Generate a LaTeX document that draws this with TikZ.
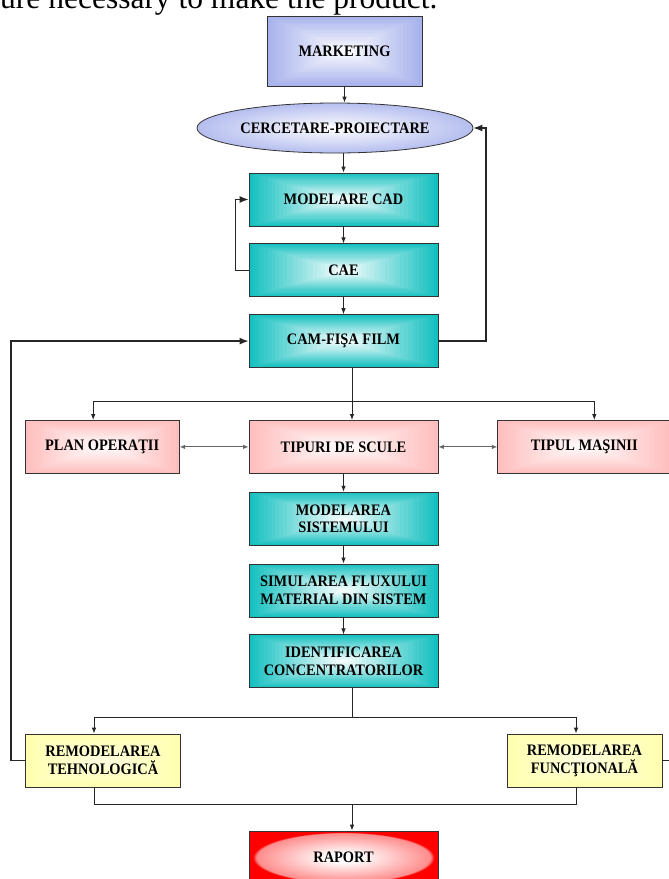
\documentclass[tikz,border=0pt]{standalone}
\usepackage{fontspec}
\setmainfont{Liberation Serif}
\newfontfamily\boxfont[FakeStretch=0.9]{Liberation Serif}
\usetikzlibrary{shapes.geometric,arrows.meta,positioning,calc}

\definecolor{mktblue}{RGB}{168,178,236}
\definecolor{cadteal}{RGB}{22,192,192}
\definecolor{toolpink}{RGB}{255,190,190}
\definecolor{remyellow}{RGB}{255,255,176}
\definecolor{remcream}{RGB}{255,255,226}
\definecolor{raportred}{RGB}{255,0,0}

\pgfdeclareradialshading{raportglow}{\pgfpoint{0bp}{0bp}}{%
  color(0bp)=(white); color(4bp)=(white); color(23bp)=(raportred!45!white);
  color(24bp)=(raportred); color(50bp)=(raportred)}

\tikzset{
  boxshade/.style 2 args={path picture={
    \foreach \k in {0,...,24}{
      \pgfmathtruncatemacro\shademix{100-4*\k}
      \pgfmathsetmacro\shrink{\k/25}
      \fill[#1!\shademix!#2]
        ($(path picture bounding box.south west)!\shrink!(path picture bounding box.center)$)
        rectangle
        ($(path picture bounding box.north east)!\shrink!(path picture bounding box.center)$);
    }}}
}
\tikzstyle{block} = [rectangle, draw=black!80, line width=0.8pt,
    minimum width=189pt, minimum height=53pt, inner sep=2pt, align=center,
    font=\boxfont\bfseries\fontsize{16}{17.7}\selectfont]
\tikzstyle{oval} = [ellipse, draw=black!80, line width=0.8pt,
    minimum width=276pt, minimum height=50pt, inner sep=0pt,
    inner color=white, outer color=mktblue!85!white,
    font=\boxfont\bfseries\fontsize{16}{17.7}\selectfont]
\tikzstyle{flow} = [draw=black!85, line width=0.8pt, -{Latex[length=6pt,width=4.5pt]}]
\tikzstyle{loopline} = [draw=black!85, line width=1.3pt, -{Latex[length=9pt,width=7pt]}]
\tikzstyle{twoway} = [draw=black!60, line width=1pt, {Latex[length=5.5pt,width=4.5pt]}-{Latex[length=5.5pt,width=4.5pt]}]
\tikzstyle{wire} = [draw=black!85, line width=0.9pt]

\begin{document}
\begin{tikzpicture}[x=1pt, y=-1pt, node distance=17pt]
    \useasboundingbox (0,0) rectangle (669,879);
    % caption line cut off at the top
    \node [anchor=base west, inner sep=0pt, font=\fontsize{31.5}{34}\selectfont] (caption) at (0,8.5) {ure necessary to make the product.};

    % Place nodes
    \node [block, minimum width=155pt, minimum height=70pt, boxshade={mktblue}{white}] (marketing) at (344.5,51) {MARKETING};
    \node [oval] (research) at (335,128) {CERCETARE-PROIECTARE};
    \node [block, boxshade={cadteal}{white}] (cad) at (343.5,199.5) {MODELARE CAD};
    \node [block, boxshade={cadteal}{white}, below=of cad] (cae) {CAE};
    \node [block, boxshade={cadteal}{white}, below=of cae] (cam) {CAM-FIŞA FILM};
    \node [block, boxshade={toolpink}{white}, below=52pt of cam] (tools) {TIPURI DE SCULE};
    \node [block, minimum width=154pt, boxshade={toolpink}{white}, left=69pt of tools] (plan) {PLAN OPERAŢII};
    \node [block, minimum width=173pt, boxshade={toolpink}{white}, right=59pt of tools] (machine) {TIPUL MAŞINII};
    \node [block, boxshade={cadteal}{white}, below=18pt of tools] (sysmodel) {MODELAREA\\ SISTEMULUI};
    \node [block, boxshade={cadteal}{white}, below=18pt of sysmodel] (flowsim) {SIMULAREA FLUXULUI\\ MATERIAL DIN SISTEM};
    \node [block, boxshade={cadteal}{white}, below=of flowsim] (hotspots) {IDENTIFICAREA\\ CONCENTRATORILOR};
    \node [block, minimum width=155pt, boxshade={remyellow}{remcream}] (techremodel) at (103,760.5) {REMODELAREA\\ TEHNOLOGICĂ};
    \node [block, minimum width=155pt, boxshade={remyellow}{remcream}] (funcremodel) at (584.5,760.5) {REMODELAREA\\ FUNCŢIONALĂ};
    \node [block, shading=raportglow] (report) at (343.5,857.5) {RAPORT};

    \coordinate (camsplit) at (352,401);
    \coordinate (identsplit) at (352,717);
    \coordinate (reportjoin) at (352,804);
    \coordinate (rightloop) at (486,128);
    \coordinate (offpage) at (680,760.5);

    % Draw edges
    \path [flow] (marketing) -- (marketing.south |- research.north);
    \path [flow] (cad.north |- research.south) -- (cad.north);
    \path [flow] (cad) -- (cae);
    \path [flow] (cae) -- (cam);
    \path [loopline] (cae.west) -- ++(-13pt,0) |- (cad.west);
    \path [loopline] (cam.east) -| (rightloop) -- (research.east);
    \path [loopline] (techremodel.west) -- ++(-14pt,0) |- (cam.west);

    \path [wire] (cam.south -| camsplit) -- (camsplit);
    \path [flow] (camsplit) -| ([xshift=-9pt]plan.north);
    \path [flow] (camsplit) -| ([xshift=10pt]machine.north);
    \path [flow] (camsplit) -- (camsplit |- tools.north);
    \path [twoway] (plan) -- (tools);
    \path [twoway] (tools) -- (machine);

    \path [flow] (tools) -- (sysmodel);
    \path [flow] (sysmodel) -- (flowsim);
    \path [flow] (flowsim) -- (hotspots);

    \path [wire] (hotspots.south -| identsplit) -- (identsplit);
    \path [flow] (identsplit) -| ([xshift=-9pt]techremodel.north);
    \path [flow] (identsplit) -| ([xshift=-8.5pt]funcremodel.north);
    \path [wire] ([xshift=-9pt]techremodel.south) |- (reportjoin);
    \path [wire] ([xshift=-8.5pt]funcremodel.south) |- (reportjoin);
    \path [flow] (reportjoin) -- (reportjoin |- report.north);
    \path [wire] (funcremodel.east) -- (offpage);
\end{tikzpicture}
\end{document}
